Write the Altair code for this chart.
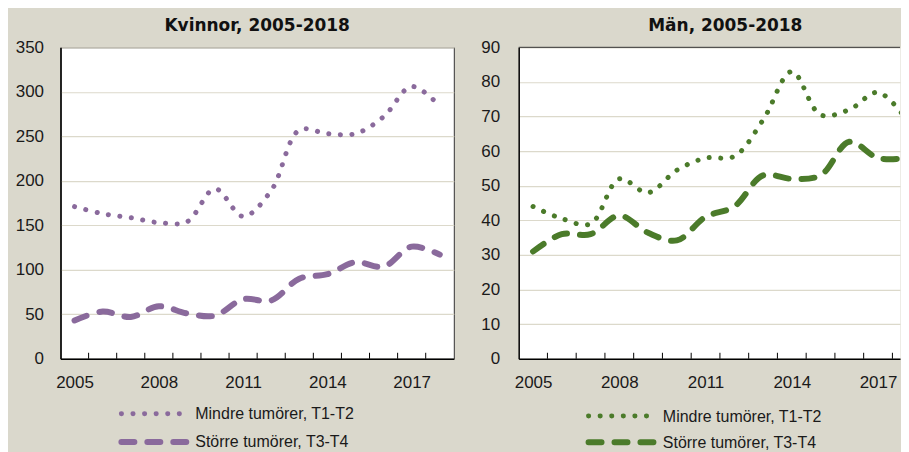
import altair as alt
import pandas as pd

years = list(range(2005, 2019))
kv_mindre = [171, 163, 158.5, 153, 154, 191, 160, 189, 257, 253, 253, 272, 306, 284]
kv_storre = [43, 53, 47, 59, 51, 48.5, 67, 65.5, 90, 95, 108.5, 103.5, 126, 117]
man_mindre = [44, 40.5, 39, 52, 48, 54.5, 58, 58.5, 69, 83, 70.5, 72, 77, 69]
man_storre = [31, 36, 36, 41.4, 36.4, 34.2, 41, 44, 53, 52, 53, 62.7, 58, 58]
series = ["Mindre tumörer, T1-T2", "Större tumörer, T3-T4"]
titles = ["Kvinnor, 2005-2018", "Män, 2005-2018"]
kv_ticks = [0, 50, 100, 150, 200, 250, 300, 350]
man_ticks = [0, 10, 20, 30, 40, 50, 60, 70, 80, 90]
label_years = [2005, 2008, 2011, 2014, 2017]
boundaries = [y + 0.5 for y in years[:-1]]

PURPLE = "#8a6a9c"
GREEN = "#4b7b2a"
BG = "#dad8cc"
GRID = "#dcd9cb"
BORDER = "#333333"
H = 312
DOT = [0.1, 11.5]
DASH = [13, 13]


def panel(title, vals_m, vals_s, color, ticks, ymax, width, xmax, lx0, lx1, tx,
          ly, ypad, cut):
    df = pd.DataFrame({
        "year": years * 2,
        "value": vals_m + vals_s,
        "series": [series[0]] * len(years) + [series[1]] * len(years),
    })
    xscale = alt.Scale(domain=[2004.5, xmax], nice=False, zero=False)
    yscale = alt.Scale(domain=[0, ymax], nice=False, zero=True)
    xaxis = alt.Axis(values=label_years, format="d", title=None, grid=False,
                     ticks=False, tickSize=0, labelPadding=16,
                     labelFont="Liberation Sans", labelFontSize=17,
                     labelColor="#1a1a1a", domainColor="#000000",
                     domainWidth=1.5, labelFlush=False, labelOverlap=False)
    yaxis = alt.Axis(values=ticks, title=None, grid=True, gridColor=GRID,
                     gridWidth=1.2, ticks=False, tickSize=0,
                     labelPadding=ypad, labelFont="Liberation Sans",
                     labelFontSize=17, labelColor="#1a1a1a",
                     domainColor="#000000", domainWidth=1.5,
                     labelOverlap=False)
    base = alt.Chart(df)
    l_m = base.transform_filter(alt.datum.series == series[0]).mark_line(
        interpolate="catmull-rom", strokeCap="round", strokeJoin="round",
        color=color, strokeWidth=5, strokeDash=DOT, clip=True,
    ).encode(
        x=alt.X("year:Q", scale=xscale, axis=xaxis),
        y=alt.Y("value:Q", scale=yscale, axis=yaxis),
    )
    l_s = base.transform_filter(alt.datum.series == series[1]).mark_line(
        interpolate="catmull-rom", strokeCap="round", strokeJoin="round",
        color=color, strokeWidth=6, strokeDash=DASH, clip=True,
    ).encode(
        x=alt.X("year:Q", scale=xscale, axis=xaxis),
        y=alt.Y("value:Q", scale=yscale, axis=yaxis),
    )
    tick_df = pd.DataFrame({"b": boundaries})
    tickmarks = alt.Chart(tick_df).transform_filter(
        alt.datum.b < xmax
    ).mark_rule(color="#000000", strokeWidth=1).encode(
        x=alt.X("b:Q", scale=xscale, axis=xaxis),
        y=alt.value(H),
        y2=alt.value(H - 6),
    )
    tdf = alt.Chart(pd.DataFrame({"t": [title]}))
    title_mark = tdf.mark_text(
        align="center", baseline="alphabetic", font="DejaVu Sans",
        fontSize=17, fontWeight="bold", color="#111111",
    ).encode(x=alt.value(414 / 2 if cut else width / 2), y=alt.value(-16.5), text="t:N")
    layers = [tickmarks, l_m, l_s, title_mark]
    if cut:
        layers.append(tdf.mark_rule(color=BORDER, strokeWidth=1).encode(
            x=alt.value(0), x2=alt.value(width), y=alt.value(0)))
    leg_df = pd.DataFrame({"label": series})
    for i, (dash, sw) in enumerate([(DOT, 5), (DASH, 6)]):
        row = alt.Chart(leg_df).transform_filter(alt.datum.label == series[i])
        layers.append(row.mark_rule(color=color, strokeWidth=sw, strokeDash=dash,
                                    strokeCap="round").encode(
            x=alt.value(lx0), x2=alt.value(lx1), y=alt.value(H + ly[i])))
        layers.append(row.mark_text(align="left", baseline="middle",
                                    font="Liberation Sans", fontSize=16,
                                    color="#1a1a1a").encode(
            x=alt.value(tx), y=alt.value(H + ly[i] + 0.5), text="label:N"))
    props = dict(width=width, height=H)
    if cut:
        props["view"] = alt.ViewBackground(stroke="transparent", fill="white")
    return alt.layer(*layers).properties(**props)


RW = 382
left = panel(titles[0], kv_mindre, kv_storre, PURPLE, kv_ticks, 350,
             394, 2018.5, 61, 126, 135, [55, 83.3], 17, False)
right = panel(titles[1], man_mindre, man_storre, GREEN, man_ticks, 90,
              RW, 2004.5 + RW / 28.8, 70, 136, 144.4, [57.4, 83.7], 19, True)

chart = alt.hconcat(left, right, spacing=25).properties(
    background=BG,
    padding={"left": 6.6, "top": 8, "right": 0, "bottom": 0},
).configure_view(
    stroke=BORDER, strokeWidth=1, fill="white",
)

chart.save("out.html", embed_options={"renderer": "svg", "actions": False})
